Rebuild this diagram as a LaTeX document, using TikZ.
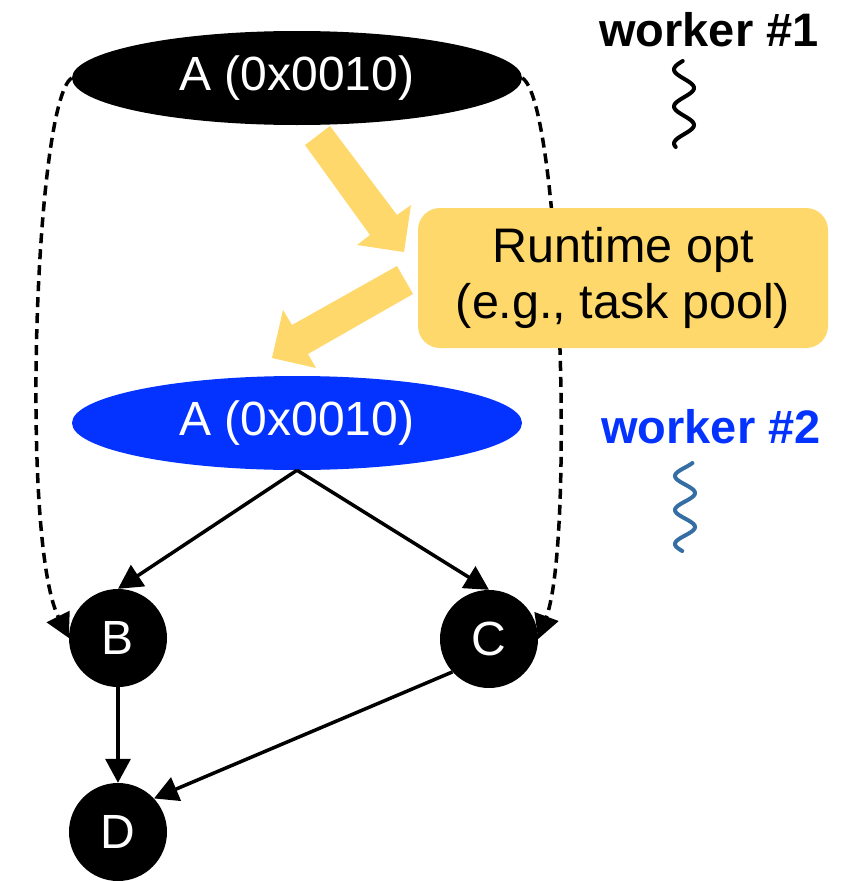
\documentclass[tikz,border=0pt]{standalone}
\usepackage{fontspec}
\setmainfont{Liberation Sans}
\usetikzlibrary{shapes.geometric,arrows.meta}
\definecolor{optyellow}{RGB}{254,216,106}
\definecolor{wblue}{RGB}{4,51,255}
\definecolor{wavecol}{RGB}{52,110,165}
\tikzset{
  taskell/.style={ellipse, minimum width=450pt, minimum height=94pt, inner sep=0pt,
    text=white, font=\fontsize{48}{56}\selectfont},
  tasknode/.style={circle, fill=black, minimum size=98pt, inner sep=0pt,
    text=white, font=\fontsize{48}{56}\selectfont},
  dep/.style={line width=3.5pt, -{Triangle[length=24pt,width=25pt]}},
  spawn/.style={line width=3.5pt, dash pattern=on 10pt off 6pt,
    -{Triangle[length=24pt,width=25pt]}},
  workerlbl/.style={font=\fontsize{47}{54}\selectfont\bfseries},
  wave/.style={line width=4pt, line cap=round, smooth},
  optbox/.style={fill=optyellow, rounded corners=22pt, minimum width=410pt,
    minimum height=140pt, align=center, font=\fontsize{48.5}{56}\selectfont}
}
\begin{document}
\begin{tikzpicture}[x=1pt,y=-1pt]
\useasboundingbox (0,0) rectangle (846,881);

% task nodes
\node[taskell, fill=black] (A1) at (297,78) {A (0x0010)};
\node[taskell, fill=wblue] (A2) at (297,423) {A (0x0010)};
\node[tasknode] (B) at (118,638) {B};
\node[tasknode] (C) at (489,639) {C};
\node[tasknode] (D) at (118,832) {D};

% spawn edges (dashed), drawn before the runtime box so it covers them
\draw[spawn] (A1.west) .. controls (35,100) and (20,540) .. (B.west);
\draw[spawn] (A1.east) .. controls (560,100) and (575,540) .. (C.east);

% dependency edges
\draw[dep] (A2.south) -- (B.north);
\draw[dep] (A2.south) -- (C.north);
\draw[dep] (B.south) -- (D.north);
\draw[dep] (C.222) -- (D.43);

% runtime optimisation box
\node[optbox] (opt) at (623,278) {Runtime opt\\(e.g., task pool)};

% block arrows into and out of the runtime box
\fill[optyellow] (305,145) -- (330,126) -- (397,215) -- (411,205) -- (404,252)
  -- (357,245) -- (370,235) -- cycle;
\fill[optyellow] (397,266) -- (413,294) -- (308,354) -- (316,368) -- (272,358)
  -- (283,310) -- (292,325) -- cycle;

% workers
\node[workerlbl] (w1) at (709,30) {worker \#1};
\node[workerlbl, text=wblue] (w2) at (711,427) {worker \#2};
\draw[wave, black] plot[domain=61:147, samples=60] ({684+10*cos((\x-88)/37*360)}, \x);
\draw[wave, wavecol] plot[domain=463:551, samples=60] ({685+10*cos((\x-493)/34*360)}, \x);
\end{tikzpicture}
\end{document}
